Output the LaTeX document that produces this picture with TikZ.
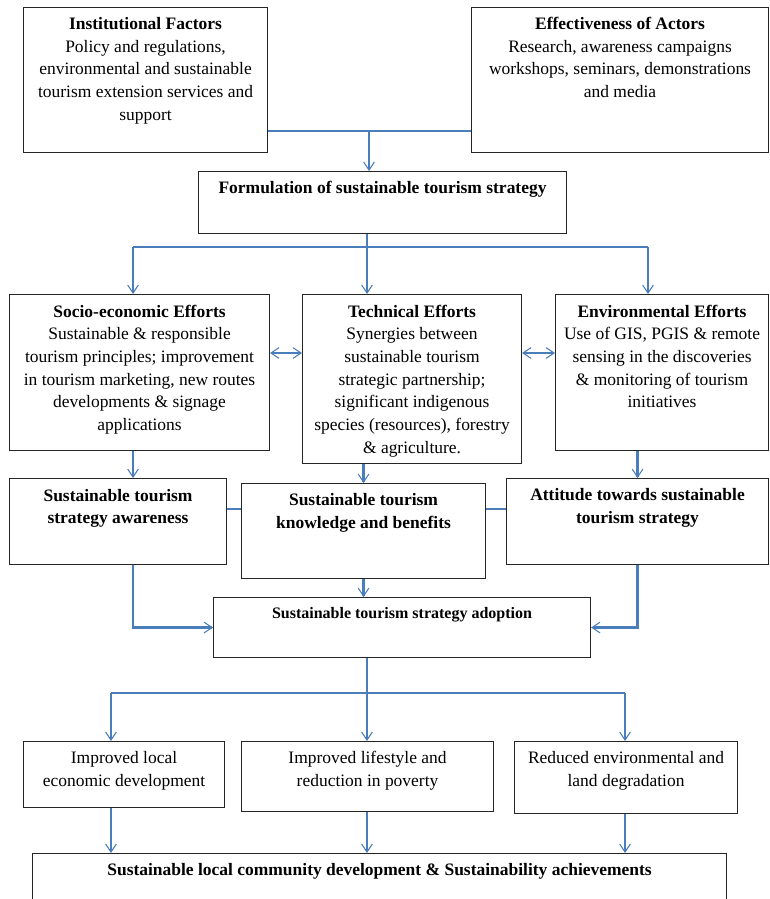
\documentclass[tikz,border=0pt]{standalone}
\usepackage{fontspec}
\setmainfont{Liberation Serif}
\usepackage{tikz}
\usetikzlibrary{arrows.meta}
\definecolor{link}{HTML}{4A7EBB}
\definecolor{frame}{HTML}{262626}
\tikzset{blk/.style={draw=frame,line width=0.8pt,rectangle,anchor=north west,inner sep=0pt}}
\tikzset{wh/.style 2 args={minimum width=#1*0.75pt,minimum height=#2*0.75pt}}
\tikzset{txt/.style={black,align=center,anchor=north,inner sep=0pt,font=\fontsize{13.1}{17}\selectfont}}
\tikzset{small/.style={txt,font=\fontsize{12}{16}\selectfont}}
\tikzset{wire/.style={link,line width=1.6pt}}
\tikzset{fine/.style={link,line width=0.8pt}}
\tikzset{tip/.style={-{Straight Barb[length=6pt,width=8pt,line width=0.8pt]}}}
\tikzset{tips/.style={{Straight Barb[length=6pt,width=8pt,line width=0.8pt]}-{Straight Barb[length=6pt,width=8pt,line width=0.8pt]}}}

\begin{document}
\begin{tikzpicture}[x=0.75pt,y=-0.75pt]
    \useasboundingbox (0,0) rectangle (770,899);

    \node[blk,wh={244}{145}] (inst) at (23,7) {};
    \node[blk,wh={297}{145}] (actors) at (471,7) {};
    \node[blk,wh={368}{62}] (form) at (198,171) {};
    \node[blk,wh={260}{156}] (socio) at (9,294) {};
    \node[blk,wh={219}{169}] (tech) at (302,294) {};
    \node[blk,wh={213}{156}] (env) at (555,294) {};
    \node[blk,wh={217}{86}] (aware) at (9,478) {};
    \node[blk,wh={244}{95}] (know) at (241,483) {};
    \node[blk,wh={262}{86}] (att) at (506,478) {};
    \node[blk,wh={377}{60}] (adopt) at (213,597) {};
    \node[blk,wh={201}{66}] (local) at (23,741) {};
    \node[blk,wh={252}{70}] (life) at (241,741) {};
    \node[blk,wh={223}{72}] (red) at (514,741) {};
    \node[blk,wh={694}{60}] (final) at (32,853) {};

    \node[txt] (inst-t) at ([yshift=-7.5pt]inst.north)
    {\textbf{Institutional Factors}\\Policy and regulations,\\environmental and sustainable\\tourism extension services and\\support};
    \node[txt] (actors-t) at ([yshift=-7.5pt]actors.north)
    {\textbf{Effectiveness of Actors}\\Research, awareness campaigns\\workshops, seminars, demonstrations\\and media};
    \node[txt] (form-t) at ([yshift=-7.5pt]form.north)
    {\textbf{Formulation of sustainable tourism strategy}};
    \node[txt] (socio-t) at ([yshift=-8pt]socio.north)
    {\textbf{Socio-economic Efforts}\\Sustainable \& responsible\\tourism principles; improvement\\in tourism marketing, new routes\\developments \& signage\\applications};
    \node[txt] (tech-t) at ([yshift=-8pt]tech.north)
    {\textbf{Technical Efforts}\\Synergies between\\sustainable tourism\\strategic partnership;\\significant indigenous\\species (resources), forestry\\\& agriculture.};
    \node[txt] (env-t) at ([yshift=-8pt]env.north)
    {\textbf{Environmental Efforts}\\Use of GIS, PGIS \& remote\\sensing in the discoveries\\\& monitoring of tourism\\initiatives};
    \node[txt] (aware-t) at ([yshift=-8pt]aware.north)
    {\textbf{Sustainable tourism}\\\textbf{strategy awareness}};
    \node[txt] (know-t) at ([yshift=-7.5pt]know.north)
    {\textbf{Sustainable tourism}\\\textbf{knowledge and benefits}};
    \node[txt] (att-t) at ([yshift=-7.5pt]att.north)
    {\textbf{Attitude towards sustainable}\\\textbf{tourism strategy}};
    \node[small] (adopt-t) at ([yshift=-7.5pt]adopt.north)
    {\textbf{Sustainable tourism strategy adoption}};
    \node[txt] (local-t) at ([yshift=-7.5pt]local.north)
    {Improved local\\economic development};
    \node[txt] (life-t) at ([yshift=-7.5pt]life.north)
    {Improved lifestyle and\\reduction in poverty};
    \node[txt] (red-t) at ([yshift=-7.5pt]red.north)
    {Reduced environmental and\\land degradation};
    \node[txt] (final-t) at ([yshift=-7.5pt]final.north)
    {\textbf{Sustainable local community development \& Sustainability achievements}};

    \coordinate (j1) at (369,131);
    \coordinate (j2) at (367,247);
    \coordinate (j2l) at (133,247);
    \coordinate (j2r) at (648,247);
    \coordinate (lv1) at (0,353);
    \coordinate (lv2) at (0,509);
    \coordinate (j4) at (367,693);
    \coordinate (j4l) at (111,693);
    \coordinate (j4r) at (625,693);

    \draw[wire] (inst.east |- j1) -- (actors.west |- j1);
    \draw[fine,tip] (j1) -- (j1 |- form.north);
    \draw[fine,tip] (j2 |- form.south) -- (j2 |- tech.north);
    \draw[wire] (j2l) -- (j2r);
    \draw[wire,tip] (j2l) -- (j2l |- socio.north);
    \draw[wire,tip] (j2r) -- (j2r |- env.north);
    \draw[wire,tips] (socio.east |- lv1) -- (tech.west |- lv1);
    \draw[wire,tips] (tech.east |- lv1) -- (env.west |- lv1);
    \draw[wire,tip] (socio.south -| j2l) -- (aware.north -| j2l);
    \draw[wire,tip] (tech.south -| know.north) -- (know.north);
    \draw[wire,tip] (env.south -| att.north) -- (att.north);
    \draw[wire] (aware.east |- lv2) -- (know.west |- lv2);
    \draw[wire] (know.east |- lv2) -- (att.west |- lv2);
    \draw[wire,tip] (aware.south -| j2l) |- (adopt.west);
    \draw[wire,tip] (know.south) -- (adopt.north -| know.south);
    \draw[wire,tip] (att.south) |- (adopt.east);
    \draw[wire,tip] (adopt.south -| j4) -- (life.north -| j4);
    \draw[wire] (j4l) -- (j4r);
    \draw[wire,tip] (j4l) -- (j4l |- local.north);
    \draw[fine,tip] (j4r) -- (j4r |- red.north);
    \draw[wire,tip] (local.south -| j4l) -- (final.north -| j4l);
    \draw[fine,tip] (life.south -| j4) -- (final.north -| j4);
    \draw[fine,tip] (red.south -| j4r) -- (final.north -| j4r);
  \end{tikzpicture}
\end{document}
